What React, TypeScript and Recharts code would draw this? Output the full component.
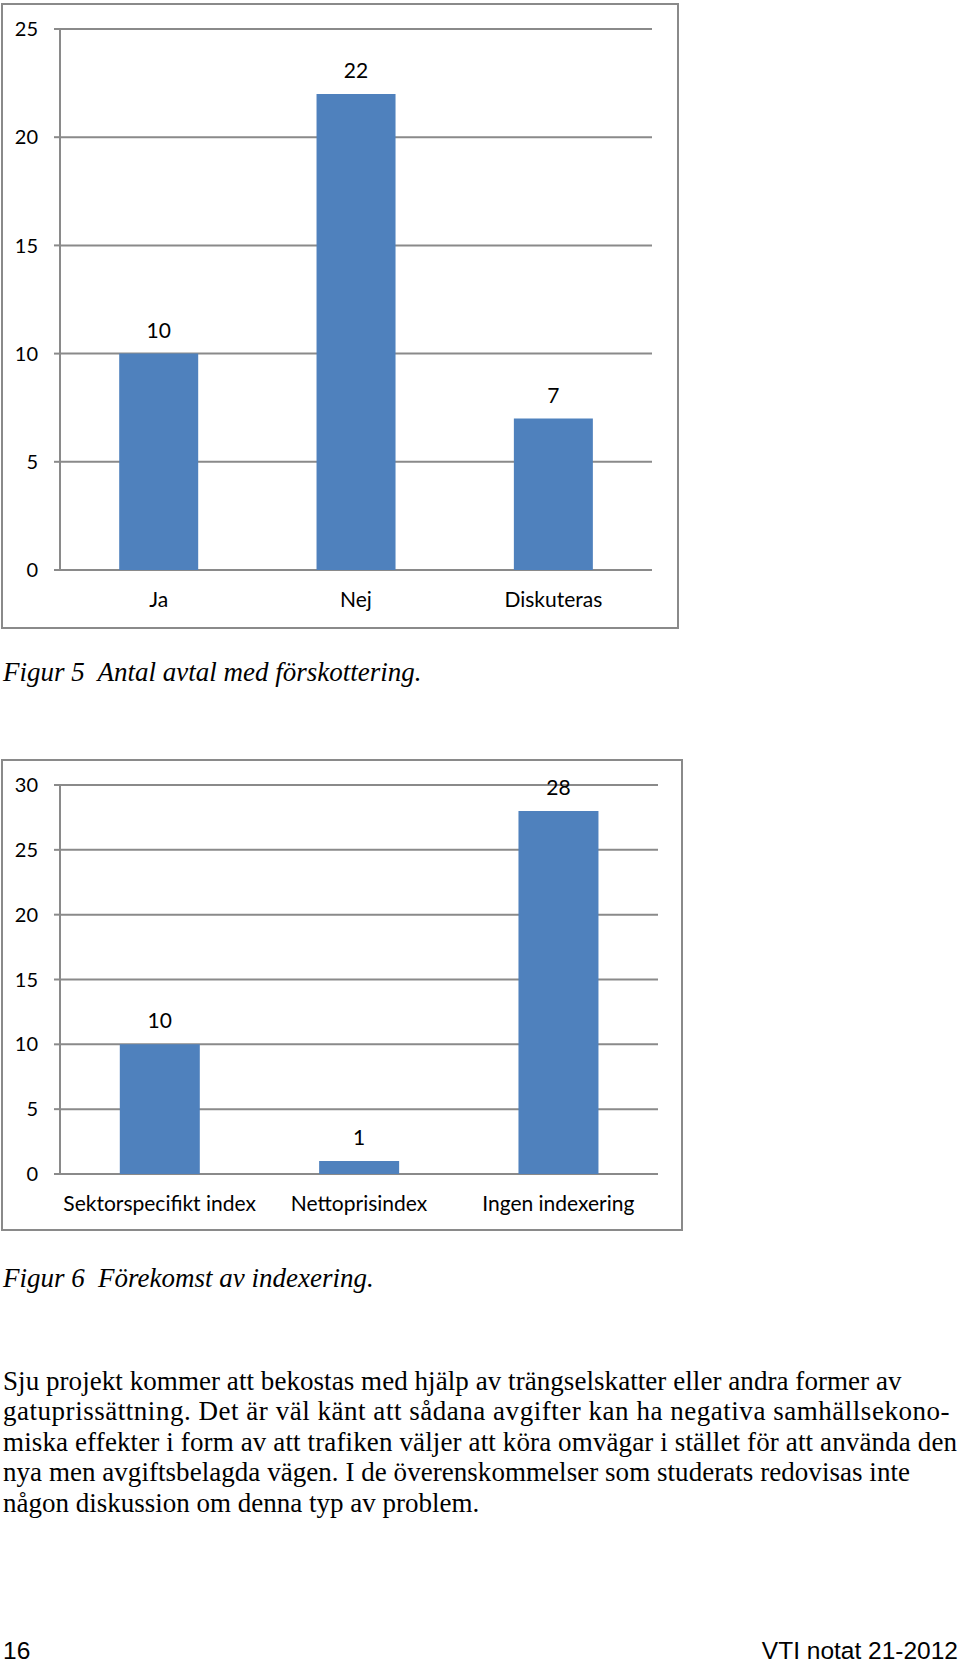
import { Bar, BarChart, CartesianGrid, LabelList, XAxis, YAxis } from "recharts";

// Figur 5 – antal avtal med förskottering
const FIG5_CATEGORIES = ["Ja", "Nej", "Diskuteras"];
const FIG5_VALUES = [10, 22, 7];
const FIG5_TICKS = [0, 5, 10, 15, 20, 25];

// Figur 6 – förekomst av indexering
const FIG6_CATEGORIES = ["Sektorspecifikt index", "Nettoprisindex", "Ingen indexering"];
const FIG6_VALUES = [10, 1, 28];
const FIG6_TICKS = [0, 5, 10, 15, 20, 25, 30];

// tick marks sit between categories, not under them
const BOUNDARY_TICKS = [0, 1, 2, 3];

const BODY_LINES = [
  "Sju projekt kommer att bekostas med hjälp av trängselskatter eller andra former av",
  "gatuprissättning. Det är väl känt att sådana avgifter kan ha negativa samhällsekono-",
  "miska effekter i form av att trafiken väljer att köra omvägar i stället för att använda den",
  "nya men avgiftsbelagda vägen. I de överenskommelser som studerats redovisas inte",
  "någon diskussion om denna typ av problem.",
];
// the paragraph is justified in the source; last line runs free
const BODY_WIDTHS = [898.5, 946.5, 954, 907, undefined];

const BLUE = "#4f81bd";
const GRID = "#8a8a8a";
const FONT = "Lato, 'Open Sans', sans-serif";
const SERIF = "'Liberation Serif', 'Times New Roman', serif";

type Margin = { top: number; right: number; bottom: number; left: number };

function BarFigure({
  categories,
  values,
  ticks,
  width,
  height,
  margin,
  top,
}: {
  categories: string[];
  values: number[];
  ticks: number[];
  width: number;
  height: number;
  margin: Margin;
  top: number;
}) {
  const data = categories.map((name, i) => ({ name, value: values[i] }));
  const max = ticks[ticks.length - 1];
  const line = { stroke: GRID, strokeWidth: 2 };

  return (
    <div style={{ position: "absolute", left: 0, top }}>
      <BarChart width={width} height={height} data={data} margin={margin} barCategoryGap="30%">
        <CartesianGrid vertical={false} stroke={GRID} strokeWidth={2} />
        <XAxis
          xAxisId={0}
          type="number"
          domain={[0, BOUNDARY_TICKS.length - 1]}
          ticks={BOUNDARY_TICKS}
          allowDataOverflow
          height={0}
          tickSize={7}
          tickFormatter={() => ""}
          axisLine={line}
          tickLine={line}
        />
        <XAxis
          xAxisId={1}
          dataKey="name"
          height={40}
          interval={0}
          axisLine={false}
          tickLine={false}
          tickSize={0}
          tickMargin={22}
          tick={{ fill: "#000", fontSize: 21, fontFamily: FONT }}
        />
        <YAxis
          domain={[0, max]}
          ticks={ticks}
          interval={0}
          width={50}
          tickSize={6}
          tickMargin={16}
          axisLine={line}
          tickLine={line}
          tick={{ fill: "#000", fontSize: 20, fontFamily: FONT }}
        />
        <Bar xAxisId={1} dataKey="value" fill={BLUE} isAnimationActive={false}>
          <LabelList
            dataKey="value"
            position="top"
            offset={16}
            fill="#000"
            fontSize={21}
            fontFamily={FONT}
          />
        </Bar>
      </BarChart>
    </div>
  );
}

const frame = (left: number, top: number, width: number, height: number) => (
  <div
    style={{
      position: "absolute",
      left,
      top,
      width,
      height,
      boxSizing: "border-box",
      border: `2px solid ${GRID}`,
      background: "#fff",
    }}
  />
);

export default function App() {
  return (
    <div style={{ position: "absolute", left: 0, top: 0, width: 960, height: 1664, background: "#fff", overflow: "hidden" }}>
      {frame(1, 3, 678, 626)}
      {frame(1, 759, 682, 472)}

      <BarFigure
        categories={FIG5_CATEGORIES}
        values={FIG5_VALUES}
        ticks={FIG5_TICKS}
        width={680}
        height={640}
        margin={{ top: 29, right: 28, bottom: 30, left: 10 }}
        top={0}
      />
      <BarFigure
        categories={FIG6_CATEGORIES}
        values={FIG6_VALUES}
        ticks={FIG6_TICKS}
        width={690}
        height={500}
        margin={{ top: 35, right: 32, bottom: 36, left: 10 }}
        top={750}
      />

      <svg width={960} height={1664} style={{ position: "absolute", left: 0, top: 0, pointerEvents: "none" }}>
        <g fontFamily={SERIF} fontStyle="italic" fontSize={27} fill="#000">
          <text x={3} y={681}>Figur 5</text>
          <text x={97.5} y={681}>Antal avtal med förskottering.</text>
          <text x={3} y={1287}>Figur 6</text>
          <text x={98} y={1287}>Förekomst av indexering.</text>
        </g>
        <g fontFamily={SERIF} fontSize={27} fill="#000">
          {BODY_LINES.map((t, i) => (
            <text
              key={i}
              x={3}
              y={1389.5 + i * 30.55}
              textLength={BODY_WIDTHS[i]}
              lengthAdjust={BODY_WIDTHS[i] ? "spacing" : undefined}
            >
              {t}
            </text>
          ))}
        </g>
        <g fontFamily="'Liberation Sans', Arial, sans-serif" fontSize={24.5} fill="#000">
          <text x={3} y={1658.5}>16</text>
          <text x={958} y={1658.5} textAnchor="end">VTI notat 21-2012</text>
        </g>
      </svg>
    </div>
  );
}
